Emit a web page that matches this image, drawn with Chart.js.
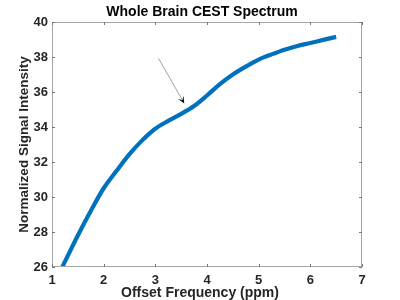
<!DOCTYPE html>
<html>
<head>
<meta charset="utf-8">
<script src="https://cdn.jsdelivr.net/npm/chart.js@4.4.1/dist/chart.umd.min.js"></script>
<style>
html,body{margin:0;padding:0;background:#fff;}
#wrap{width:400px;height:300px;}
</style>
</head>
<body>
<div id="wrap"><canvas id="c" width="400" height="300"></canvas></div>
<script>
const offsetPpm = [1.2, 1.5, 1.75, 2.0, 2.25, 2.5, 2.75, 3.0, 3.25, 3.5, 3.75, 4.0, 4.25, 4.5, 4.75, 5.0, 5.25, 5.5, 5.75, 6.0, 6.25, 6.5];
const signal    = [26.0, 27.8, 29.2, 30.5, 31.5, 32.45, 33.25, 33.9, 34.35, 34.75, 35.2, 35.8, 36.45, 37.0, 37.45, 37.85, 38.15, 38.42, 38.63, 38.8, 38.98, 39.15];
const xTicks = [1, 2, 3, 4, 5, 6, 7];
const yTicks = [26, 28, 30, 32, 34, 36, 38, 40];
const arrowFrom = [3.06, 37.93];
const arrowTo   = [3.56, 35.35];
const titleText = 'Whole Brain CEST Spectrum';
const xTitleText = 'Offset Frequency (ppm)';

const FONT = "'Liberation Sans', Arial, Helvetica, sans-serif";

const boxPlugin = {
  id: 'boxPlugin',
  afterDatasetsDraw(chart) {
    const {ctx, chartArea: a, scales: {x, y}} = chart;
    ctx.save();
    ctx.strokeStyle = '#a6a6a6';
    ctx.lineWidth = 1;
    ctx.strokeRect(a.left + 0.5, a.top + 0.5, a.right - a.left - 1, a.bottom - a.top - 1);
    ctx.strokeStyle = '#777';
    ctx.beginPath();
    const tl = 3;
    xTicks.forEach(v => {
      const px = Math.round(x.getPixelForValue(v)) + 0.5;
      ctx.moveTo(px, a.bottom); ctx.lineTo(px, a.bottom - tl);
      ctx.moveTo(px, a.top); ctx.lineTo(px, a.top + tl);
    });
    yTicks.forEach(v => {
      const py = Math.round(y.getPixelForValue(v)) + 0.5;
      ctx.moveTo(a.left, py); ctx.lineTo(a.left + tl, py);
      ctx.moveTo(a.right, py); ctx.lineTo(a.right - tl, py);
    });
    ctx.stroke();

    // titles
    ctx.textAlign = 'center';
    ctx.textBaseline = 'middle';
    ctx.fillStyle = '#000';
    ctx.font = 'bold 14px ' + FONT;
    ctx.fillText(titleText, 202, 12);
    ctx.fillStyle = '#262626';
    ctx.font = 'bold 14px ' + FONT;
    ctx.fillText(xTitleText, 200, 293);

    // arrow annotation
    const x0 = x.getPixelForValue(arrowFrom[0]), y0 = y.getPixelForValue(arrowFrom[1]);
    const x1 = x.getPixelForValue(arrowTo[0]), y1 = y.getPixelForValue(arrowTo[1]);
    const ang = Math.atan2(y1 - y0, x1 - x0);
    const hl = 7, hw = 3.2;
    const bx = x1 - hl * Math.cos(ang), by = y1 - hl * Math.sin(ang);
    ctx.strokeStyle = '#8a8a8a';
    ctx.lineWidth = 0.8;
    ctx.beginPath();
    ctx.moveTo(x0, y0);
    ctx.lineTo(bx + 2 * Math.cos(ang), by + 2 * Math.sin(ang));
    ctx.stroke();
    ctx.fillStyle = '#111';
    ctx.beginPath();
    ctx.moveTo(x1, y1);
    ctx.lineTo(bx + hw * Math.sin(ang), by - hw * Math.cos(ang));
    ctx.lineTo(bx + 0.45 * hl * Math.cos(ang), by + 0.45 * hl * Math.sin(ang));
    ctx.lineTo(bx - hw * Math.sin(ang), by + hw * Math.cos(ang));
    ctx.closePath();
    ctx.fill();
    ctx.restore();
  }
};

new Chart(document.getElementById('c'), {
  type: 'line',
  data: {
    datasets: [{
      data: offsetPpm.map((v, i) => ({x: v, y: signal[i]})),
      borderColor: '#0072BD',
      borderWidth: 4.2,
      pointRadius: 0,
      cubicInterpolationMode: 'monotone',
      fill: false,
      borderCapStyle: 'butt'
    }]
  },
  options: {
    responsive: false,
    animation: false,
    devicePixelRatio: 1,
    layout: {padding: {left: 0, right: 38, top: 22, bottom: 0}},
    plugins: {
      legend: {display: false},
      tooltip: {enabled: false},
      title: {display: false}
    },
    scales: {
      x: {
        type: 'linear', min: 1, max: 7,
        afterFit: s => { s.height = 33; },
        afterBuildTicks: s => { s.ticks = xTicks.map(v => ({value: v})); },
        grid: {display: false, drawTicks: false},
        border: {display: false},
        ticks: {color: '#262626', font: {family: FONT, size: 13, weight: 'bold'}, padding: 6, maxRotation: 0},
        title: {display: false}
      },
      y: {
        type: 'linear', min: 26, max: 40,
        afterFit: s => { s.width = 52; },
        afterBuildTicks: s => { s.ticks = yTicks.map(v => ({value: v})); },
        grid: {display: false, drawTicks: false},
        border: {display: false},
        ticks: {color: '#262626', font: {family: FONT, size: 13, weight: 'bold'}, padding: 4},
        title: {display: true, text: 'Normalized Signal Intensity', color: '#262626', font: {family: FONT, size: 13.5, weight: 'bold'}, padding: {top: 16.5, bottom: 0}}
      }
    }
  },
  plugins: [boxPlugin]
});
</script>
</body>
</html>
